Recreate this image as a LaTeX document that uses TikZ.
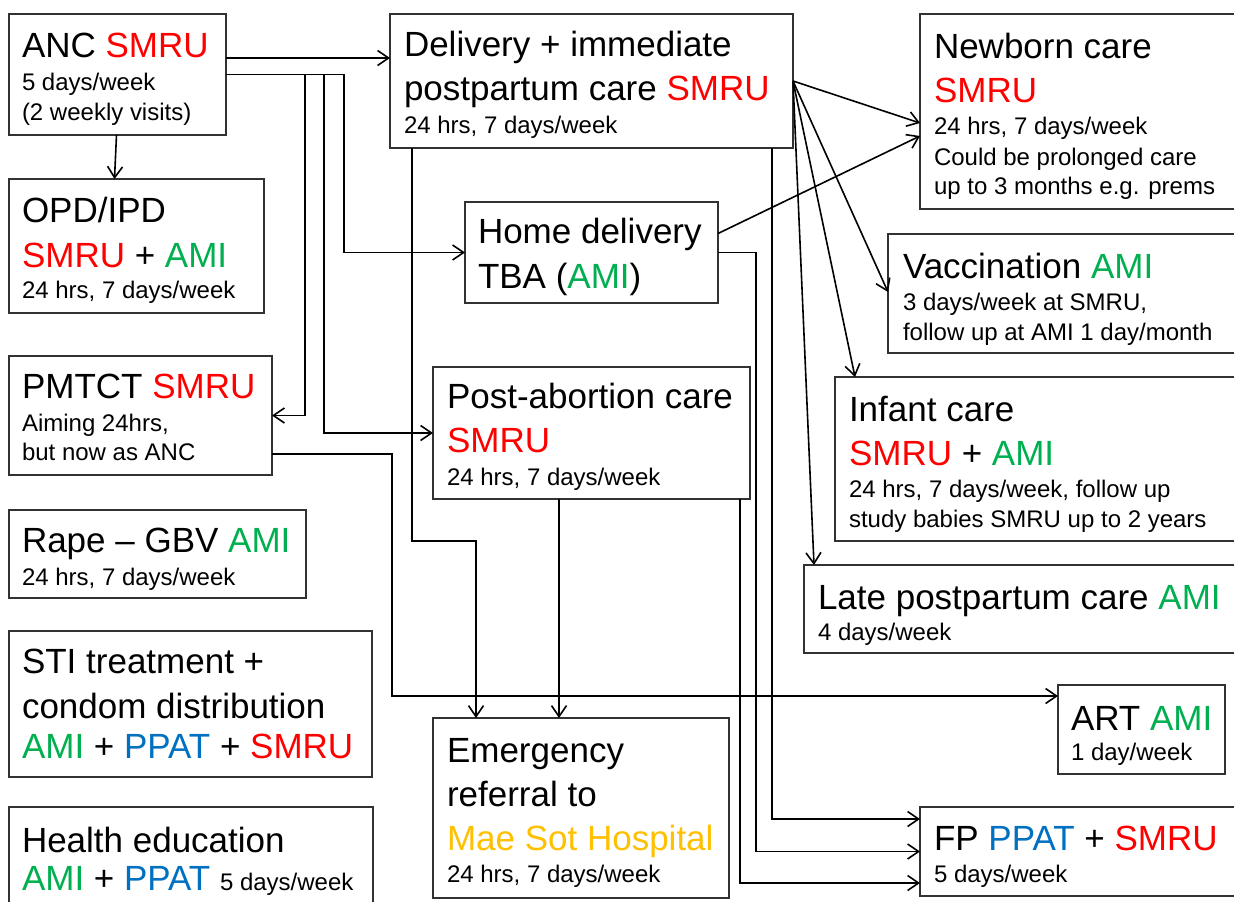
\documentclass[tikz,border=0pt]{standalone}
\usepackage{fontspec}
\setmainfont{Liberation Sans}
\usetikzlibrary{arrows.meta}
\definecolor{smru}{RGB}{255,0,0}
\definecolor{ami}{RGB}{0,176,80}
\definecolor{ppat}{RGB}{0,112,192}
\definecolor{mae}{RGB}{255,192,0}
\definecolor{boxline}{RGB}{50,50,50}
\newcommand\Bf{\fontsize{35}{40}\selectfont}
\newcommand\Sf{\fontsize{24}{28}\selectfont}
\newcommand\Ln[2]{\hbox{\vrule height #1pt depth 0pt width 0pt\smash{#2}}}
\newcommand\Tx[1]{\vbox{\offinterlineskip #1}}
\newcommand\RS{\textcolor{smru}{SMRU}}
\newcommand\GA{\textcolor{ami}{AMI}}
\newcommand\BP{\textcolor{ppat}{PPAT}}
\tikzset{
  box/.style={draw=boxline, line width=1.7pt, rectangle, inner sep=0pt, outer sep=0pt, anchor=north west},
  txt/.style={anchor=north west, inner sep=0pt, outer sep=0pt},
  conn/.style={line width=1.6pt, draw=black},
  arr/.style={conn, -{Straight Barb[length=11pt,width=15pt,line width=1.6pt]}},
}
\begin{document}
\begin{tikzpicture}[x=1pt,y=-1pt]
\useasboundingbox (0,0) rectangle (1234,902);
\clip (0,0) rectangle (1234,902);
\fill[white] (0,0) rectangle (1234,902);

% ---------- boxes ----------
\node[box, minimum width=217pt, minimum height=121pt] (anc) at (9,14) {};
\node[box, minimum width=255pt, minimum height=134pt] (opd) at (9,179) {};
\node[box, minimum width=263pt, minimum height=119pt] (pmtct) at (9,356) {};
\node[box, minimum width=297pt, minimum height=88pt] (rape) at (9,510) {};
\node[box, minimum width=363pt, minimum height=146pt] (sti) at (9,631) {};
\node[box, minimum width=364pt, minimum height=110pt] (he) at (9,807) {};
\node[box, minimum width=403pt, minimum height=134pt] (del) at (390,14) {};
\node[box, minimum width=253pt, minimum height=101pt] (home) at (465,202) {};
\node[box, minimum width=317pt, minimum height=132pt] (pac) at (433,367) {};
\node[box, minimum width=296pt, minimum height=180pt] (emg) at (433,718) {};
\node[box, minimum width=330pt, minimum height=195pt] (nb) at (920,14) {};
\node[box, minimum width=362pt, minimum height=119pt] (vac) at (888,234) {};
\node[box, minimum width=415pt, minimum height=164pt] (inf) at (835,377) {};
\node[box, minimum width=446pt, minimum height=88pt] (late) at (804,565) {};
\node[box, minimum width=167pt, minimum height=89pt] (art) at (1058,685) {};
\node[box, minimum width=330pt, minimum height=89pt] (fp) at (920,807) {};

% ---------- texts ----------
\node[txt] (anc-t) at ([xshift=13pt]anc.north west) {\Tx{%
  \Ln{43}{\Bf ANC \RS}\Ln{33}{\Sf 5 days/week}\Ln{30}{\Sf (2 weekly visits)}}};
\node[txt] (opd-t) at ([xshift=13pt]opd.north west) {\Tx{%
  \Ln{43}{\Bf OPD/IPD}\Ln{45}{\Bf \RS{} + \GA}\Ln{31}{\Sf 24 hrs, 7 days/week}}};
\node[txt] (pmtct-t) at ([xshift=13pt]pmtct.north west) {\Tx{%
  \Ln{42}{\Bf PMTCT \RS}\Ln{33}{\Sf Aiming 24hrs,}\Ln{29}{\Sf but now as ANC}}};
\node[txt] (rape-t) at ([xshift=13pt]rape.north west) {\Tx{%
  \Ln{42}{\Bf Rape – GBV \GA}\Ln{33}{\Sf 24 hrs, 7 days/week}}};
\node[txt] (sti-t) at ([xshift=13pt]sti.north west) {\Tx{%
  \Ln{42}{\Bf STI treatment +}\Ln{45}{\Bf condom distribution}\Ln{40}{\Bf \GA{} + \BP{} + \RS}}};
\node[txt] (he-t) at ([xshift=13pt]he.north west) {\Tx{%
  \Ln{45}{\Bf Health education}\Ln{38}{\Bf \GA{} + \BP{} \Sf 5 days/week}}};
\node[txt] (del-t) at ([xshift=14pt]del.north west) {\Tx{%
  \Ln{42}{\Bf Delivery + immediate}\Ln{44}{\Bf postpartum care \RS}\Ln{33}{\Sf 24 hrs, 7 days/week}}};
\node[txt] (home-t) at ([xshift=13pt]home.north west) {\Tx{%
  \Ln{41}{\Bf Home delivery}\Ln{45}{\Bf TBA (\GA)}}};
\node[txt] (pac-t) at ([xshift=14pt]pac.north west) {\Tx{%
  \Ln{41}{\Bf Post-abortion care}\Ln{44}{\Bf \RS}\Ln{33}{\Sf 24 hrs, 7 days/week}}};
\node[txt] (emg-t) at ([xshift=14pt]emg.north west) {\Tx{%
  \Ln{44}{\Bf Emergency}\Ln{44}{\Bf referral to}\Ln{44}{\Bf \textcolor{mae}{Mae Sot Hospital}}\Ln{32}{\Sf 24 hrs, 7 days/week}}};
\node[txt] (nb-t) at ([xshift=14pt]nb.north west) {\Tx{%
  \Ln{44}{\Bf Newborn care}\Ln{44}{\Bf \RS}\Ln{32}{\Sf 24 hrs, 7 days/week}\Ln{31}{\Sf Could be prolonged care}\Ln{29}{\Sf up to 3 months e.g. prems}}};
\node[txt] (vac-t) at ([xshift=15pt]vac.north west) {\Tx{%
  \Ln{44}{\Bf Vaccination \GA}\Ln{32}{\Sf 3 days/week at SMRU,}\Ln{30}{\Sf follow up at AMI 1 day/month}}};
\node[txt] (inf-t) at ([xshift=14pt]inf.north west) {\Tx{%
  \Ln{44}{\Bf Infant care}\Ln{44}{\Bf \RS{} + \GA}\Ln{32}{\Sf 24 hrs, 7 days/week, follow up}\Ln{30}{\Sf study babies SMRU up to 2 years}}};
\node[txt] (late-t) at ([xshift=14pt]late.north west) {\Tx{%
  \Ln{44}{\Bf Late postpartum care \GA}\Ln{31}{\Sf 4 days/week}}};
\node[txt] (art-t) at ([xshift=13pt]art.north west) {\Tx{%
  \Ln{45}{\Bf ART \GA}\Ln{30}{\Sf 1 day/week}}};
\node[txt] (fp-t) at ([xshift=14pt]fp.north west) {\Tx{%
  \Ln{43}{\Bf FP \BP{} + \RS}\Ln{32}{\Sf 5 days/week}}};

% ---------- connectors ----------
% ANC
\draw[arr] ([yshift=16.5pt]anc.east) coordinate (ancA) -- (ancA -| del.west);
\draw[arr] ([xshift=-1pt]anc.south) -- ([xshift=-3pt]anc.south |- opd.north);
\draw[arr] (anc.east) -- ++(118,0) |- (home.west);
\draw[arr] (anc.east) -- ++(79,0) |- (pmtct.east);
\draw[arr] (anc.east) -- ++(98,0) |- (pac.west);
% Delivery
\draw[arr] ([xshift=22pt]del.south west) -- ++(0,393) -| ([xshift=43pt]emg.north west);
\draw[arr] ([xshift=-21pt]del.south east) |- ([yshift=32.5pt]fp.west);
\draw[arr] (del.east) -- ([yshift=-11.5pt]nb.west);
\draw[arr] (del.east) -- ([yshift=1.5pt]vac.west);
\draw[arr] (del.east) -- ([xshift=20pt]inf.north west);
\draw[arr] (del.east) -- ([xshift=10pt]late.north west);
% Home delivery
\draw[arr] ([yshift=19pt]home.east) -- ([yshift=-24.5pt]nb.west);
\draw[arr] (home.east) -- ++(38,0) |- (fp.west);
% Post-abortion
\draw[arr] ([xshift=126pt]pac.south west) coordinate (pacB) -- (pacB |- emg.north);
\draw[arr] ([xshift=-10pt]pac.south east) |- ([yshift=-31.5pt]fp.west);
% PMTCT
\draw[arr] ([yshift=-38.5pt]pmtct.east) -- ++(120,0) |- ([yshift=33.5pt]art.west);
\end{tikzpicture}
\end{document}
